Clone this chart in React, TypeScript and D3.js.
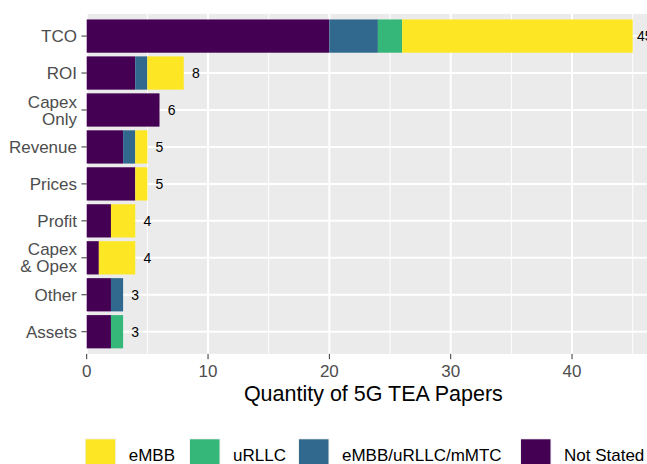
import React from "react";
import * as d3 from "d3";

const categories = ["TCO", "ROI", "Capex\nOnly", "Revenue", "Prices", "Profit", "Capex\n& Opex", "Other", "Assets"];
const seriesNames = ["Not Stated", "eMBB/uRLLC/mMTC", "uRLLC", "eMBB"];
const notStated = [20, 4, 6, 3, 4, 2, 1, 2, 2];
const allThree = [4, 1, 0, 1, 0, 0, 0, 1, 0];
const urllc = [2, 0, 0, 0, 0, 0, 0, 0, 1];
const embb = [19, 3, 0, 1, 1, 2, 3, 0, 0];
const legendOrder = ["eMBB", "uRLLC", "eMBB/uRLLC/mMTC", "Not Stated"];
const xTicks = [0, 10, 20, 30, 40];
const xMinor = [5, 15, 25, 35, 45];
const xTitle = "Quantity of 5G TEA Papers";

const colors: Record<string, string> = {
  "eMBB": "#FDE725",
  "uRLLC": "#35B779",
  "eMBB/uRLLC/mMTC": "#31688E",
  "Not Stated": "#440154",
};

const W = 647, H = 464;
const FONT = "'Liberation Sans', Arial, Helvetica, sans-serif";

export default function App() {
  const panelL = 86.7, panelR = 660, panelT = 13.9, panelB = 353.9;
  const seriesValues = [notStated, allThree, urllc, embb];
  const rows = categories.map((c, i) => {
    const r: any = { cat: c };
    seriesNames.forEach((s, j) => (r[s] = seriesValues[j][i]));
    return r;
  });
  const totals = categories.map((_, i) => seriesValues.reduce((a, v) => a + v[i], 0));
  const maxTotal = d3.max(totals) as number;

  const x = d3.scaleLinear().domain([0, maxTotal * 1.05]).range([panelL, panelR]);
  const step = (panelB - panelT) / (categories.length - 1 + 1.2);
  const yc = (i: number) => panelT + step * (0.6 + i);
  const barH = step * 0.9;

  const stack = d3.stack<any>().keys(seriesNames)(rows);

  const axisText = "#4D4D4D";

  return (
    <svg width={W} height={H} style={{ position: "absolute", left: 0, top: 0, background: "#fff" }} fontFamily={FONT}>
      <rect x={0} y={0} width={W} height={H} fill="#fff" />
      <rect x={panelL} y={panelT} width={panelR - panelL} height={panelB - panelT} fill="#EBEBEB" />
      {xMinor.map((t) => (
        <line key={"mn" + t} x1={x(t)} x2={x(t)} y1={panelT} y2={panelB} stroke="#fff" strokeWidth={1} />
      ))}
      {xTicks.map((t) => (
        <line key={"mj" + t} x1={x(t)} x2={x(t)} y1={panelT} y2={panelB} stroke="#fff" strokeWidth={2} />
      ))}
      {categories.map((c, i) => (
        <line key={"hg" + i} x1={panelL} x2={panelR} y1={yc(i)} y2={yc(i)} stroke="#fff" strokeWidth={2} />
      ))}
      {stack.map((layer) =>
        layer.map((d, i) =>
          d[1] - d[0] > 0 ? (
            <rect
              key={layer.key + i}
              x={x(d[0])}
              width={x(d[1]) - x(d[0])}
              y={yc(i) - barH / 2}
              height={barH}
              fill={colors[layer.key]}
            />
          ) : null
        )
      )}
      {totals.map((t, i) => (
        <text key={"vl" + i} x={x(t + 1)} y={yc(i)} dy="0.35em" textAnchor="middle" fontSize={14} fill="#000">
          {t}
        </text>
      ))}
      {/* y axis */}
      {categories.map((c, i) => {
        const lines = c.split("\n");
        const lh = 17;
        const start = yc(i) - ((lines.length - 1) * lh) / 2;
        return (
          <g key={"yl" + i}>
            <line x1={panelL - 5.3} x2={panelL} y1={yc(i)} y2={yc(i)} stroke="#333" strokeWidth={1} />
            {lines.map((ln, k) => (
              <text key={k} x={77} y={start + k * lh} dy="0.36em" textAnchor="end" fontSize={17} fill={axisText}>
                {ln}
              </text>
            ))}
          </g>
        );
      })}
      {/* x axis */}
      {xTicks.map((t) => (
        <g key={"xt" + t}>
          <line x1={x(t)} x2={x(t)} y1={panelB} y2={panelB + 5.3} stroke="#333" strokeWidth={1} />
          <text x={x(t)} y={376.7} textAnchor="middle" fontSize={17} fill={axisText}>
            {t}
          </text>
        </g>
      ))}
      <text x={(panelL + panelR) / 2} y={400.5} textAnchor="middle" fontSize={21.5} fill="#000">
        {xTitle}
      </text>
      {/* legend */}
      {(() => {
        const keyX = [84.7, 189, 298, 520];
        return legendOrder.map((s, i) => (
          <g key={"lg" + s}>
            <rect x={keyX[i]} y={438.3} width={31.5} height={31.5} fill="#F2F2F2" />
            <rect x={keyX[i] + 1} y={439.3} width={29.5} height={29.5} fill={colors[s]} />
            <text x={keyX[i] + 44} y={454.5} dy="0.36em" fontSize={17} fill="#000">
              {s}
            </text>
          </g>
        ));
      })()}
    </svg>
  );
}
